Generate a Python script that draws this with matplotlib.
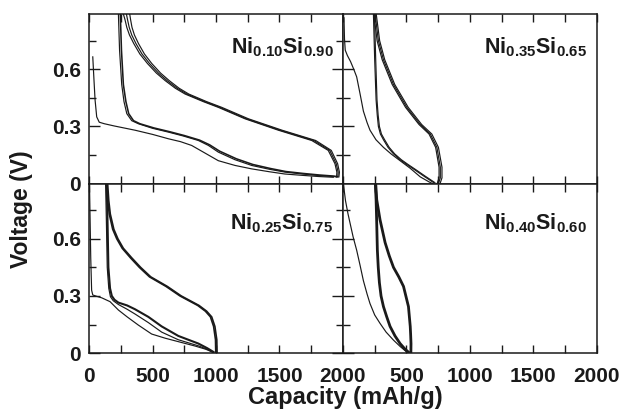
"""
voltage profiles of NixSi1-x electrodes, 4 panels sharing axes
"""
import matplotlib
matplotlib.use("Agg")
import matplotlib.pyplot as plt
from matplotlib.ticker import MultipleLocator, FixedLocator

plt.rcParams['font.family'] = ['Liberation Sans', 'DejaVu Sans']
plt.rcParams['font.weight'] = 'bold'
plt.rcParams['mathtext.fontset'] = 'custom'
plt.rcParams['mathtext.rm'] = 'Liberation Sans:bold'
plt.rcParams['mathtext.it'] = 'Liberation Sans:bold'
plt.rcParams['mathtext.bf'] = 'Liberation Sans:bold'

# ---- Ni0.10Si0.90 (top left)
a_d1_cap = [29, 38, 47, 60, 80, 120, 200, 362, 500, 625, 720, 808, 900, 1018, 1150, 1281, 1420, 1543, 1680, 1806, 1924]
a_d1_v = [0.665, 0.55, 0.44, 0.35, 0.322, 0.314, 0.302, 0.28, 0.258, 0.235, 0.22, 0.2, 0.165, 0.12, 0.095, 0.077, 0.062, 0.05, 0.043, 0.037, 0.033]
a_d2_cap = [231, 240, 257, 275, 297, 336, 388, 500, 625, 740, 861, 940, 1018, 1150, 1281, 1420, 1543, 1680, 1806, 1924, 1950]
a_d2_v = [0.89, 0.7, 0.52, 0.43, 0.367, 0.33, 0.314, 0.29, 0.27, 0.25, 0.226, 0.2, 0.165, 0.125, 0.095, 0.075, 0.06, 0.05, 0.042, 0.037, 0.035]
a_d3_cap = [246, 255, 270, 290, 312, 350, 400, 510, 635, 750, 870, 950, 1028, 1160, 1290, 1428, 1550, 1686, 1812, 1930, 1958]
a_d3_v = [0.89, 0.7, 0.52, 0.43, 0.367, 0.33, 0.314, 0.292, 0.272, 0.252, 0.228, 0.203, 0.17, 0.13, 0.1, 0.079, 0.063, 0.053, 0.045, 0.039, 0.036]
a_c_v = [0.035, 0.06, 0.104, 0.174, 0.226, 0.28, 0.34, 0.40, 0.43, 0.47, 0.50, 0.54, 0.58, 0.63, 0.68, 0.735, 0.78, 0.82, 0.86, 0.89]
a_c1_cap = [1950, 1952, 1937, 1884, 1754, 1491, 1228, 1018, 900, 756, 680, 600, 530, 460, 400, 352, 318, 297, 283, 270]
a_c2_cap = [1960, 1962, 1947, 1896, 1770, 1505, 1240, 1030, 912, 770, 695, 615, 546, 476, 417, 369, 336, 316, 303, 294]
a_c3_cap = [1968, 1972, 1958, 1908, 1785, 1520, 1255, 1045, 926, 785, 710, 632, 563, 494, 436, 389, 357, 338, 327, 320]

# ---- Ni0.35Si0.65 (top right)
b_d1_cap = [8, 12, 18, 35, 60, 85, 108, 135, 161, 190, 213, 260, 319, 380, 450, 530, 609, 680, 705]
b_d1_v = [0.87, 0.76, 0.70, 0.672, 0.64, 0.60, 0.56, 0.47, 0.38, 0.32, 0.28, 0.23, 0.19, 0.155, 0.12, 0.08, 0.035, 0.008, 0.0]
b_d_v = [0.89, 0.65, 0.44, 0.36, 0.30, 0.26, 0.23, 0.19, 0.156, 0.125, 0.10, 0.07, 0.04, 0.02, 0.005]
b_d2_cap = [240, 250, 261, 270, 279, 295, 319, 355, 398, 450, 503, 570, 635, 680, 714]
b_d3_cap = [248, 258, 268, 277, 287, 303, 328, 364, 407, 460, 513, 580, 645, 690, 724]
b_c_v = [0.0, 0.03, 0.086, 0.19, 0.26, 0.31, 0.40, 0.52, 0.65, 0.75, 0.89]
b_c1_cap = [742, 757, 757, 730, 678, 599, 493, 388, 309, 269, 243]
b_c2_cap = [752, 767, 767, 740, 688, 609, 503, 398, 319, 279, 253]
b_c3_cap = [765, 780, 780, 752, 700, 620, 514, 408, 329, 289, 262]

# ---- Ni0.25Si0.75 (bottom left)
c_d1_cap = [3, 8, 13, 20, 29, 60, 100, 165, 231, 300, 388, 493, 600, 703, 835, 920, 966, 985]
c_d1_v = [0.89, 0.7, 0.5, 0.33, 0.305, 0.298, 0.29, 0.27, 0.226, 0.19, 0.147, 0.10, 0.078, 0.06, 0.037, 0.02, 0.007, 0.0]
c_d2_cap = [130, 136, 143, 155, 168, 190, 231, 300, 362, 467, 572, 703, 861, 930, 975]
c_d2_v = [0.89, 0.7, 0.45, 0.34, 0.296, 0.275, 0.255, 0.23, 0.205, 0.16, 0.11, 0.07, 0.038, 0.02, 0.004]
c_d3_cap = [139, 145, 152, 165, 179, 200, 231, 300, 362, 467, 572, 703, 861, 930, 980]
c_d3_v = [0.89, 0.7, 0.45, 0.34, 0.30, 0.28, 0.265, 0.25, 0.23, 0.19, 0.14, 0.09, 0.05, 0.026, 0.006]
c_c_v = [0.0, 0.07, 0.14, 0.19, 0.22, 0.25, 0.30, 0.35, 0.40, 0.45, 0.50, 0.55, 0.60, 0.65, 0.73, 0.80, 0.89]
c_c1_cap = [998, 996, 981, 956, 916, 856, 716, 606, 476, 396, 326, 261, 218, 186, 159, 147, 138]
c_c2_cap = [1008, 1006, 991, 966, 926, 866, 726, 616, 486, 406, 336, 270, 227, 195, 167, 155, 146]

# ---- Ni0.40Si0.60 (bottom right)
d_d1_cap = [3, 20, 40, 60, 80, 108, 135, 161, 190, 213, 250, 292, 340, 398, 450, 503]
d_d1_v = [0.89, 0.80, 0.73, 0.67, 0.61, 0.54, 0.46, 0.38, 0.31, 0.26, 0.20, 0.156, 0.11, 0.068, 0.035, 0.005]
d_d2_cap = [255, 261, 266, 271, 278, 287, 300, 319, 345, 371, 410, 450, 490, 516]
d_d2_v = [0.89, 0.805, 0.68, 0.54, 0.45, 0.37, 0.30, 0.244, 0.19, 0.14, 0.09, 0.05, 0.02, 0.005]
d_c_cap = [535, 536, 533, 530, 516, 477, 440, 398, 365, 332, 292, 266, 258]
d_c_v = [0.0, 0.05, 0.10, 0.14, 0.244, 0.35, 0.40, 0.45, 0.51, 0.58, 0.70, 0.805, 0.89]

labels = [r'$\mathrm{Ni}_{0.10}\mathrm{Si}_{0.90}$', r'$\mathrm{Ni}_{0.35}\mathrm{Si}_{0.65}$',
          r'$\mathrm{Ni}_{0.25}\mathrm{Si}_{0.75}$', r'$\mathrm{Ni}_{0.40}\mathrm{Si}_{0.60}$']

fig = plt.figure(figsize=(6.23, 4.12), dpi=100)
gs = fig.add_gridspec(2, 2, left=0.143, right=0.958, top=0.966, bottom=0.143, hspace=0, wspace=0)
axs = [fig.add_subplot(gs[0, 0]), fig.add_subplot(gs[0, 1]),
       fig.add_subplot(gs[1, 0]), fig.add_subplot(gs[1, 1])]

thin = 0.85
mid = 1.15
k = '#1a1a1a'

ax = axs[0]
ax.plot(a_d1_cap, a_d1_v, color=k, lw=thin)
ax.plot(a_d2_cap, a_d2_v, color=k, lw=thin)
ax.plot(a_d3_cap, a_d3_v, color=k, lw=mid)
ax.plot(a_c1_cap, a_c_v, color=k, lw=thin)
ax.plot(a_c2_cap, a_c_v, color=k, lw=thin)
ax.plot(a_c3_cap, a_c_v, color=k, lw=thin)

ax = axs[1]
ax.plot(b_d1_cap, b_d1_v, color=k, lw=thin)
ax.plot(b_d2_cap, b_d_v, color=k, lw=thin)
ax.plot(b_d3_cap, b_d_v, color=k, lw=thin)
ax.plot(b_c1_cap, b_c_v, color=k, lw=thin)
ax.plot(b_c2_cap, b_c_v, color=k, lw=thin)
ax.plot(b_c3_cap, b_c_v, color=k, lw=thin)

ax = axs[2]
ax.plot(c_d1_cap, c_d1_v, color=k, lw=thin)
ax.plot(c_d2_cap, c_d2_v, color=k, lw=thin)
ax.plot(c_d3_cap, c_d3_v, color=k, lw=1.5)
ax.plot(c_c1_cap, c_c_v, color=k, lw=1.2)
ax.plot(c_c2_cap, c_c_v, color=k, lw=1.2)

ax = axs[3]
ax.plot(d_d1_cap, d_d1_v, color=k, lw=thin)
ax.plot(d_d2_cap, d_d2_v, color=k, lw=2.0)
ax.plot(d_c_cap, d_c_v, color=k, lw=2.0)

for i, ax in enumerate(axs):
    ax.set_xlim(0, 2000)
    ax.set_ylim(0, 0.89)
    ax.set_xticks([0, 500, 1000, 1500, 2000])
    ax.xaxis.set_minor_locator(MultipleLocator(250))
    ax.set_yticks([0, 0.3, 0.6])
    ax.yaxis.set_minor_locator(FixedLocator([0.15, 0.45, 0.75]))
    right_side = (i % 2 == 0)
    ax.tick_params(which='both', direction='in', top=True, bottom=True, left=True, right=right_side,
                   width=1.0, labelsize=15, colors=k)
    ax.tick_params(axis='x', which='both', length=5.8, pad=10)
    ax.tick_params(axis='y', which='major', length=7.7, pad=6)
    ax.tick_params(axis='y', which='minor', length=5)
    for s in ax.spines.values():
        s.set_linewidth(1.1)
        s.set_color(k)
    if i < 2:
        ax.set_xticklabels([])
    elif i == 2:
        ax.set_xticklabels(['0', '500', '1000', '1500', '2000'])
    else:
        ax.set_xticklabels(['', '500', '1000', '1500', '2000'])
    if i % 2 == 1:
        ax.set_yticklabels([])
    else:
        ax.set_yticklabels(['0', '0.3', '0.6'])
    for t in ax.get_xticklabels() + ax.get_yticklabels():
        t.set_fontweight('bold')
    ypos = 0.765 if i < 2 else 0.73
    ax.text(0.962, ypos, labels[i], transform=ax.transAxes, ha='right', va='baseline',
            fontsize=15.5, color=k)

fig.text(0.035, 0.493, 'Voltage (V)', rotation=90, ha='center', va='center', fontsize=16.5, fontweight='bold', color=k)
fig.text(0.554, 0.036, 'Capacity (mAh/g)', ha='center', va='center', fontsize=17, fontweight='bold', color=k)

plt.savefig("out.png", dpi=100)
